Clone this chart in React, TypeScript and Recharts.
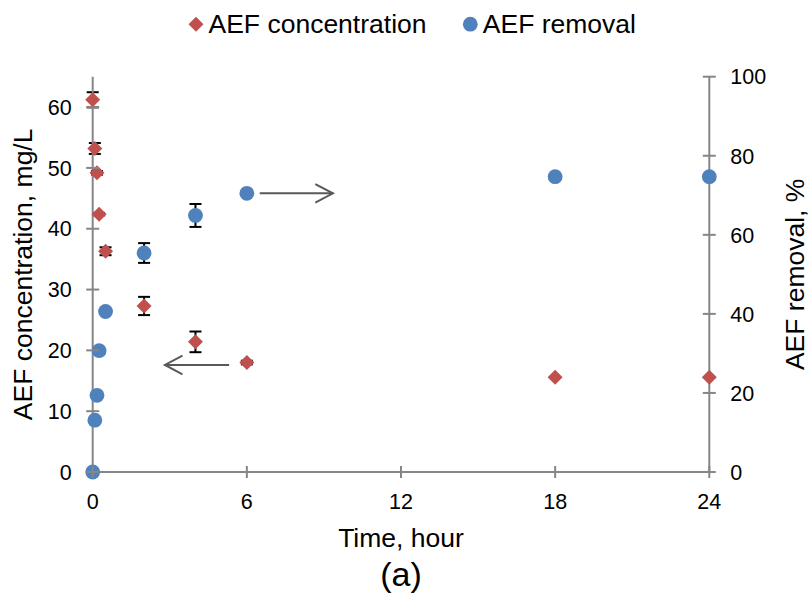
import React from "react";
import { ScatterChart, Scatter, XAxis, YAxis, ErrorBar, ReferenceLine, Legend } from "recharts";

// sampling times (hour)
const times = [0, 0.083, 0.167, 0.25, 0.5, 2, 4, 6, 18, 24];
// AEF concentration, mg/L and its error
const concentration = [61.2, 53.2, 49.2, 42.4, 36.3, 27.3, 21.4, 18.0, 15.6, 15.6];
const concentrationErr = [1.25, 0.9, 0.3, 0.2, 0.65, 1.5, 1.7, 0.3, 0, 0];
// AEF removal, % and its error
const removal = [0, 13.1, 19.4, 30.7, 40.6, 55.4, 64.9, 70.5, 74.7, 74.7];
const removalErr = [0, 0.5, 0, 0, 0.5, 2.5, 2.9, 0, 0, 0];

const xTicks = [0, 6, 12, 18, 24];
const leftTicks = [0, 10, 20, 30, 40, 50, 60];
const rightTicks = [0, 20, 40, 60, 80, 100];

// arrows pointing at the axis each series belongs to: [from x, to x, y]
const concArrow = [5.31, 2.81, 17.6];
const removalArrow = [6.5, 9.35, 70.5];

const RED = "#C0504D";
const BLUE = "#4F81BD";
const AXIS = "#868686";
const ARROW = "#595959";
const FONT = "'Liberation Sans', Arial, sans-serif";

const concData = times.map((t, i) => ({ x: t, y: concentration[i], err: concentrationErr[i] }));
const removalData = times.map((t, i) => ({ x: t, y: removal[i], err: removalErr[i] }));

const Diamond = (p: any) => {
  const { cx, cy } = p;
  const h = 7.5;
  return <polygon points={`${cx},${cy - h} ${cx + h},${cy} ${cx},${cy + h} ${cx - h},${cy}`} fill={RED} />;
};

const Dot = (p: any) => <circle cx={p.cx} cy={p.cy} r={7.4} fill={BLUE} />;

// error bars are drawn by separate series with no marker so they sit behind the markers
const NoMark = () => <g />;

const LeftTick = (p: any) => (
  <g>
    <line x1={p.x - 6.5} x2={p.x + 6.5} y1={p.y} y2={p.y} stroke={AXIS} strokeWidth={2} />
    <text x={p.x - 21} y={p.y} dy="0.36em" textAnchor="end" fontSize={21.5} fontFamily={FONT} fill="#000">
      {p.payload.value}
    </text>
  </g>
);

const RightTick = (p: any) => (
  <g>
    <line x1={p.x - 6.5} x2={p.x + 6.5} y1={p.y} y2={p.y} stroke={AXIS} strokeWidth={2} />
    <text x={p.x + 21} y={p.y} dy="0.36em" textAnchor="start" fontSize={21.5} fontFamily={FONT} fill="#000">
      {p.payload.value}
    </text>
  </g>
);

const BottomTick = (p: any) => (
  <g>
    <line x1={p.x} x2={p.x} y1={p.y - 6} y2={p.y + 6} stroke={AXIS} strokeWidth={2} />
    <text x={p.x} y={p.y + 37} textAnchor="middle" fontSize={21.5} fontFamily={FONT} fill="#000">
      {p.payload.value}
    </text>
  </g>
);

const XLabel = (p: any) => {
  const vb = p.viewBox;
  const cx = vb.x + vb.width / 2;
  return (
    <g fontFamily={FONT} fill="#000">
      <text x={cx} y={vb.y + 75} textAnchor="middle" fontSize={26.5}>Time, hour</text>
      <text x={cx} y={vb.y + 114} textAnchor="middle" fontSize={34}>(a)</text>
    </g>
  );
};

const LeftLabel = (p: any) => {
  const vb = p.viewBox;
  const x = vb.x - 0.7;
  const y = vb.y + vb.height / 2;
  return (
    <text x={x} y={y} transform={`rotate(-90, ${x}, ${y})`} textAnchor="middle" fontSize={26.5} fontFamily={FONT} fill="#000">
      AEF concentration, mg/L
    </text>
  );
};

const RightLabel = (p: any) => {
  const vb = p.viewBox;
  const x = vb.x + vb.width;
  const y = vb.y + vb.height / 2;
  return (
    <text x={x} y={y} transform={`rotate(-90, ${x}, ${y})`} textAnchor="middle" fontSize={26.5} fontFamily={FONT} fill="#000">
      AEF removal, %
    </text>
  );
};

const Arrow = (p: any) => {
  const { x1, y1, x2, y2 } = p;
  const dir = Math.sign(x2 - x1);
  return (
    <g>
      <line x1={x1} y1={y1} x2={x2} y2={y2} stroke={ARROW} strokeWidth={2} />
      <polyline
        points={`${x2 - dir * 17.6},${y2 - 9.3} ${x2},${y2} ${x2 - dir * 17.6},${y2 + 9.3}`}
        fill="none"
        stroke={ARROW}
        strokeWidth={2}
      />
    </g>
  );
};

// legend drawn as svg so the markers match the plot markers
const legendX = [196, 470.3];
const LegendContent = (props: any) => {
  const items = (props.payload || []).filter((it: any) => it.type !== "none");
  return (
    <svg width={809} height={48}>
      {items.map((item: any, i: number) => {
        const cx = legendX[i];
        const cy = 24.2;
        return (
          <g key={item.value}>
            {item.value === "AEF concentration" ? (
              <polygon points={`${cx},${cy - 7.5} ${cx + 7.5},${cy} ${cx},${cy + 7.5} ${cx - 7.5},${cy}`} fill={RED} />
            ) : (
              <circle cx={cx} cy={cy} r={7.4} fill={BLUE} />
            )}
            <text x={cx + 12.5} y={33.3} fontSize={26.5} fontFamily={FONT} fill="#000">
              {item.value}
            </text>
          </g>
        );
      })}
    </svg>
  );
};

export default function App() {
  return (
    <div style={{ position: "absolute", left: 0, top: 0 }}>
      <ScatterChart width={809} height={594} margin={{ top: 76.7, right: 4.7, bottom: 82, left: 32.7 }}>
        <XAxis
          type="number"
          dataKey="x"
          domain={[0, 24]}
          ticks={xTicks}
          interval={0}
          tickSize={0}
          tickMargin={0}
          tickLine={false}
          tick={BottomTick}
          axisLine={{ stroke: AXIS, strokeWidth: 2 }}
          height={40}
          label={XLabel}
        />
        <YAxis
          yAxisId="left"
          type="number"
          dataKey="y"
          domain={[0, 65]}
          ticks={leftTicks}
          interval={0}
          tickSize={0}
          tickMargin={0}
          tickLine={false}
          tick={LeftTick}
          axisLine={{ stroke: AXIS, strokeWidth: 2 }}
          width={60}
          label={LeftLabel}
        />
        <YAxis
          yAxisId="right"
          orientation="right"
          type="number"
          dataKey="y"
          domain={[0, 100]}
          ticks={rightTicks}
          interval={0}
          tickSize={0}
          tickMargin={0}
          tickLine={false}
          tick={RightTick}
          axisLine={{ stroke: AXIS, strokeWidth: 2 }}
          width={95}
          label={RightLabel}
        />
        <Legend
          layout="horizontal"
          verticalAlign="middle"
          align="center"
          wrapperStyle={{ top: 0, left: 0, width: 809, height: 48 }}
          content={LegendContent}
        />
        <ReferenceLine
          yAxisId="left"
          segment={[{ x: concArrow[0], y: concArrow[2] }, { x: concArrow[1], y: concArrow[2] }]}
          shape={Arrow}
          ifOverflow="visible"
        />
        <ReferenceLine
          yAxisId="right"
          segment={[{ x: removalArrow[0], y: removalArrow[2] }, { x: removalArrow[1], y: removalArrow[2] }]}
          shape={Arrow}
          ifOverflow="visible"
        />
        <Scatter name="concErr" legendType="none" yAxisId="left" data={concData} shape={NoMark} isAnimationActive={false}>
          <ErrorBar dataKey="err" direction="y" width={6} stroke="#000" strokeWidth={2} isAnimationActive={false} />
        </Scatter>
        <Scatter name="removalErr" legendType="none" yAxisId="right" data={removalData} shape={NoMark} isAnimationActive={false}>
          <ErrorBar dataKey="err" direction="y" width={6} stroke="#000" strokeWidth={2} isAnimationActive={false} />
        </Scatter>
        <Scatter name="AEF concentration" yAxisId="left" data={concData} fill={RED} shape={Diamond} isAnimationActive={false} />
        <Scatter name="AEF removal" yAxisId="right" data={removalData} fill={BLUE} shape={Dot} isAnimationActive={false} />
      </ScatterChart>
    </div>
  );
}
